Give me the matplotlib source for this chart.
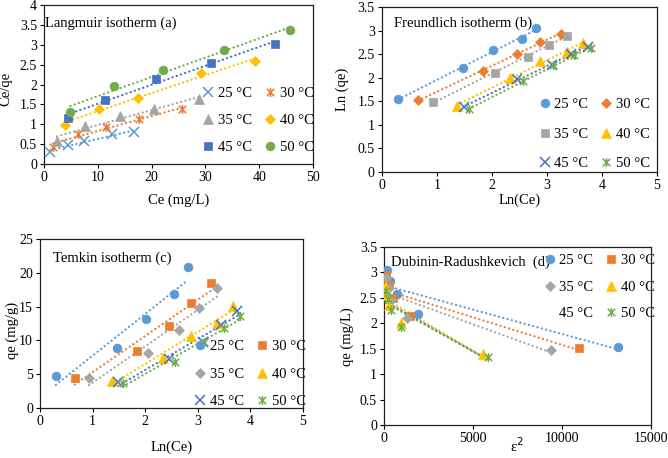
import numpy as np
import matplotlib
matplotlib.use("Agg")
import matplotlib.pyplot as plt
from matplotlib.path import Path
from matplotlib.ticker import FuncFormatter

plt.rcParams['font.family'] = ['Liberation Serif', 'DejaVu Serif']

temps = ["25 °C", "30 °C", "35 °C", "40 °C", "45 °C", "50 °C"]
colors = ["#5B9BD5", "#ED7D31", "#A5A5A5", "#FFC000", "#4472C4", "#70AD47"]

# Panel (a) Langmuir: Ce vs Ce/qe
lang_ce = [
    [1.2, 4.4, 7.5, 12.7, 16.7],
    [1.7, 6.3, 11.6, 17.7, 25.6],
    [2.4, 7.7, 14.1, 20.4, 28.8],
    [3.9, 10.2, 17.5, 29.2, 39.2],
    [4.4, 11.4, 20.9, 31.0, 42.9],
    [4.9, 13.0, 22.2, 33.5, 45.7],
]
lang_ceqe = [
    [0.29, 0.49, 0.58, 0.75, 0.80],
    [0.44, 0.75, 0.94, 1.13, 1.38],
    [0.59, 0.96, 1.22, 1.38, 1.63],
    [0.99, 1.39, 1.66, 2.30, 2.58],
    [1.15, 1.61, 2.15, 2.55, 3.01],
    [1.32, 1.96, 2.37, 2.88, 3.36],
]

# Panel (b) Freundlich: ln(Ce) vs ln(qe)
fr_lnce = [
    [0.30, 1.47, 2.02, 2.55, 2.81],
    [0.66, 1.84, 2.45, 2.87, 3.25],
    [0.93, 2.06, 2.65, 3.03, 3.37],
    [1.37, 2.33, 2.87, 3.37, 3.66],
    [1.49, 2.45, 3.09, 3.44, 3.75],
    [1.58, 2.57, 3.11, 3.50, 3.81],
]
fr_lnqe = [
    [1.55, 2.20, 2.58, 2.83, 3.05],
    [1.52, 2.14, 2.50, 2.76, 2.93],
    [1.48, 2.10, 2.45, 2.70, 2.89],
    [1.39, 2.00, 2.36, 2.55, 2.73],
    [1.37, 1.97, 2.28, 2.51, 2.66],
    [1.33, 1.92, 2.27, 2.48, 2.63],
]

# Panel (c) Temkin: ln(Ce) vs qe
tk_lnce = fr_lnce
tk_qe = [
    [4.7, 8.9, 13.1, 16.8, 20.8],
    [4.5, 8.4, 12.1, 15.5, 18.5],
    [4.4, 8.1, 11.5, 14.8, 17.8],
    [4.0, 7.4, 10.6, 12.6, 15.1],
    [3.8, 7.2, 9.8, 12.3, 14.3],
    [3.7, 6.8, 9.7, 11.8, 13.6],
]

# Panel (d) Dubinin-Radushkevich: eps^2 vs ln(qe)
dr_eps2 = [
    [190, 320, 750, 1900, 13150],
    [100, 260, 520, 1450, 10950],
    [130, 270, 420, 1300, 9400],
    [80, 130, 280, 950, 5570],
    [100, 180, 320, 1050, 5700],
    [110, 200, 400, 980, 5840],
]
dr_q = [
    [3.04, 2.83, 2.58, 2.19, 1.54],
    [2.94, 2.76, 2.50, 2.14, 1.52],
    [2.89, 2.70, 2.45, 2.10, 1.47],
    [2.73, 2.55, 2.36, 2.00, 1.39],
    [2.66, 2.50, 2.28, 1.96, 1.36],
    [2.63, 2.48, 2.27, 1.92, 1.33],
]

star = Path([(-1, -1), (1, 1), (-1, 1), (1, -1), (0, -1.2), (0, 1.2)],
            [Path.MOVETO, Path.LINETO, Path.MOVETO, Path.LINETO, Path.MOVETO, Path.LINETO])

mk_a = ['x', star, '^', 'D', 's', 'o']
mk_b = ['o', 'D', 's', '^', 'x', star]
mk_c = ['o', 's', 'D', '^', 'x', star]
mk_d = ['o', 's', 'D', '^', None, star]

fig = plt.figure(figsize=(6.68, 4.58), dpi=100)

def add_ax(l, r, t, b):
    W, H = 668.0, 458.0
    return fig.add_axes([l / W, 1 - b / H, (r - l) / W, (b - t) / H])

axes = [add_ax(44, 313, 5, 164), add_ax(381.7, 657, 7, 172),
        add_ax(40, 303, 239, 408), add_ax(384, 651, 247, 425)]

def msize(m):
    if m == 'D':
        return 5.0
    if m == '^':
        return 6.8
    if m in ('x',):
        return 6.5
    if m is star:
        return 6.5
    return 6.3

def draw(ax, xs, ys, markers):
    handles = []
    for i in range(6):
        x = np.array(xs[i], float)
        y = np.array(ys[i], float)
        k, c0 = np.polyfit(x, y, 1)
        xx = np.array([x.min(), x.max()])
        ax.plot(xx, k * xx + c0, color=colors[i], lw=1.6,
                linestyle=(0, (0.1, 1.9)), dash_capstyle='round', zorder=2)
        m = markers[i]
        if m is None:
            h, = ax.plot([], [], linestyle='none', marker='None', label=temps[i])
        elif m in ('x',) or m is star:
            h, = ax.plot(x, y, linestyle='none', marker=m, ms=msize(m),
                         mec=colors[i], mfc='none', mew=1.1, zorder=3, label=temps[i])
        else:
            h, = ax.plot(x, y, linestyle='none', marker=m, ms=msize(m),
                         mec=colors[i], mfc=colors[i], mew=0.5, zorder=3, label=temps[i])
        handles.append(h)
    return handles

def style(ax, xlim, ylim, xt, yt):
    ax.set_xlim(*xlim)
    ax.set_ylim(*ylim)
    ax.set_xticks(xt)
    ax.set_yticks(yt)
    fmt = FuncFormatter(lambda v, p: '{:g}'.format(round(v, 3)))
    ax.xaxis.set_major_formatter(fmt)
    ax.yaxis.set_major_formatter(fmt)
    ax.tick_params(direction='out', length=3, width=0.8, labelsize=10, pad=2,
                   colors='black')
    for s in ax.spines.values():
        s.set_color('#202020')
        s.set_linewidth(0.9)

def legend(ax, handles, cx, cy, ls):
    order = [0, 2, 4, 1, 3, 5]
    ax.legend([handles[i] for i in order], [temps[i] for i in order], ncol=2,
              loc='center', bbox_to_anchor=(cx, cy), frameon=False, fontsize=10.5,
              handlelength=0.9, handletextpad=0.2, columnspacing=0.8,
              labelspacing=ls, borderpad=0, borderaxespad=0)

# (a)
ax = axes[0]
h = draw(ax, lang_ce, lang_ceqe, mk_a)
style(ax, (0, 50), (0, 4), np.arange(0, 51, 10), np.arange(0, 4.01, 0.5))
legend(ax, h, 0.794, 0.274, 0.95)
ax.text(0.005, 0.887, "Langmuir isotherm (a)", transform=ax.transAxes, fontsize=10.5,
        va='center', ha='left')
ax.set_xlabel("Ce (mg/L)", fontsize=10.5)
ax.set_ylabel("Ce/qe", fontsize=10.5)
ax.xaxis.set_label_coords(0.5, -0.226)
ax.xaxis.label.set_va('center')
ax.yaxis.set_label_coords(-0.141, 0.47)
ax.yaxis.label.set_va('center')

# (b)
ax = axes[1]
h = draw(ax, fr_lnce, fr_lnqe, mk_b)
style(ax, (0, 5), (0, 3.5), np.arange(0, 6, 1), np.arange(0, 3.51, 0.5))
legend(ax, h, 0.771, 0.230, 1.1)
ax.text(0.045, 0.903, "Freundlich isotherm (b)", transform=ax.transAxes, fontsize=10.5,
        va='center', ha='left')
ax.set_xlabel("Ln(Ce)", fontsize=10.5)
ax.set_ylabel("Ln (qe)", fontsize=10.5)
ax.xaxis.set_label_coords(0.5, -0.17)
ax.xaxis.label.set_va('center')
ax.yaxis.set_label_coords(-0.144, 0.5)
ax.yaxis.label.set_va('center')

# (c)
ax = axes[2]
h = draw(ax, tk_lnce, tk_qe, mk_c)
style(ax, (0, 5), (0, 25), np.arange(0, 6, 1), np.arange(0, 26, 5))
legend(ax, h, 0.797, 0.201, 1.0)
ax.text(0.049, 0.888, "Temkin isotherm (c)", transform=ax.transAxes, fontsize=10.5,
        va='center', ha='left')
ax.set_xlabel("Ln(Ce)", fontsize=10.5)
ax.set_ylabel("qe (mg/g)", fontsize=10.5)
ax.xaxis.set_label_coords(0.5, -0.231)
ax.xaxis.label.set_va('center')
ax.yaxis.set_label_coords(-0.106, 0.457)
ax.yaxis.label.set_va('center')

# (d)
ax = axes[3]
h = draw(ax, dr_eps2, dr_q, mk_d)
style(ax, (0, 15000), (0, 3.5), np.arange(0, 15001, 5000), np.arange(0, 3.51, 0.5))
legend(ax, h, 0.805, 0.775, 0.9)
ax.text(0.026, 0.916, "Dubinin-Radushkevich  (d)", transform=ax.transAxes, fontsize=10.5,
        va='center', ha='left')
ax.set_xlabel("ε$^2$", fontsize=10.5)
ax.set_ylabel("qe (mg/L)", fontsize=10.5)
ax.xaxis.set_label_coords(0.497, -0.118)
ax.xaxis.label.set_va('center')
ax.yaxis.set_label_coords(-0.139, 0.494)
ax.yaxis.label.set_va('center')

fig.savefig("out.png", dpi=100)
